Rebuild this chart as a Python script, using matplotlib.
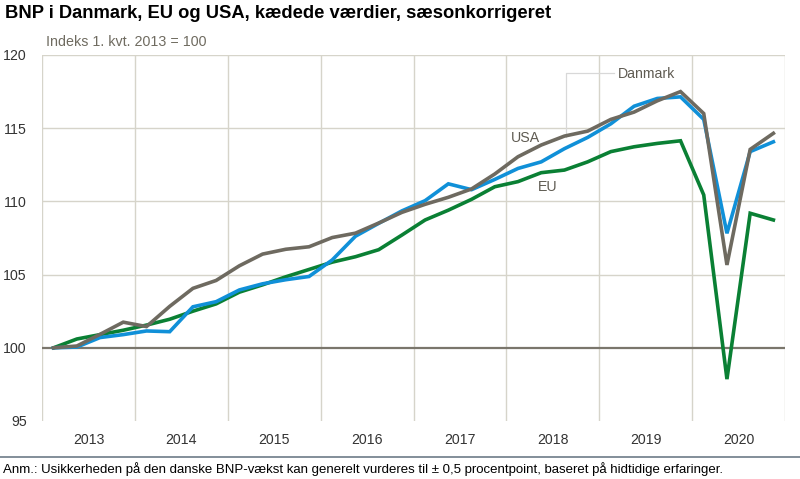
import numpy as np
import matplotlib
matplotlib.use("Agg")
import matplotlib.pyplot as plt

# Kvartaler 2013K1 - 2020K4, indeks 1. kvt. 2013 = 100
years = ["2013", "2014", "2015", "2016", "2017", "2018", "2019", "2020"]
danmark = [100.0, 100.05, 100.7, 100.9, 101.15, 101.1, 102.8, 103.15,
           103.95, 104.37, 104.65, 104.87, 106.0, 107.62, 108.5, 109.35,
           110.05, 111.2, 110.8, 111.5, 112.25, 112.7, 113.6, 114.37,
           115.3, 116.5, 117.03, 117.14, 115.6, 107.82, 113.4, 114.07]
usa = [100.0, 100.12, 100.92, 101.75, 101.45, 102.83, 104.06, 104.6,
       105.6, 106.4, 106.73, 106.9, 107.53, 107.83, 108.52, 109.25,
       109.8, 110.28, 110.85, 111.87, 113.05, 113.85, 114.46, 114.8,
       115.6, 116.1, 116.87, 117.5, 116.0, 105.66, 113.55, 114.65]
eu = [100.0, 100.6, 100.9, 101.2, 101.55, 101.95, 102.5, 103.0,
      103.8, 104.3, 104.85, 105.35, 105.85, 106.22, 106.7, 107.7,
      108.73, 109.4, 110.14, 111.0, 111.35, 111.96, 112.14, 112.7,
      113.4, 113.73, 113.96, 114.14, 110.44, 97.86, 109.19, 108.73]

plt.rcParams["font.family"] = ["Liberation Sans", "DejaVu Sans"]

grid_c = "#d6d4ca"
text_c = "#5f5b52"

fig = plt.figure(figsize=(8.0, 4.79), dpi=100)
ax = fig.add_axes([0.0525, 0.1211, 0.92875, 0.7641])

x = np.arange(len(danmark))
ax.plot(x, eu, color="#0a8034", lw=2.6, solid_joinstyle="miter", zorder=3)
ax.plot(x, danmark, color="#1090d8", lw=2.6, solid_joinstyle="miter", zorder=4)
ax.plot(x, usa, color="#6e6a60", lw=2.6, solid_joinstyle="miter", zorder=5)

ax.set_xlim(-0.5, len(x) - 0.5)
ax.set_ylim(95, 120)
ax.set_yticks([95, 100, 105, 110, 115, 120])
for v in [105, 110, 115, 120]:
    ax.axhline(v, color=grid_c, lw=1.0, zorder=1)
ax.axhline(100, color="#7a766c", lw=1.6, zorder=2)
for k in range(len(years) + 1):
    ax.axvline(-0.5 + 4 * k, color=grid_c, lw=1.0, zorder=1)

ax.set_xticks([1.5 + 4 * k for k in range(len(years))])
ax.set_xticklabels(years)
ax.tick_params(length=0, labelsize=10.2, colors="#333333")
ax.tick_params(axis="y", pad=11)
ax.tick_params(axis="x", pad=9)
for s in ax.spines.values():
    s.set_visible(False)

# serie-navne
ax.text(20.34, 114.36, "USA", color=text_c, fontsize=10.2,
        ha="center", va="center")
ax.text(21.27, 110.95, "EU", color=text_c, fontsize=10.2,
        ha="center", va="center")
ax.plot([22.07, 22.07, 24.14], [114.4, 118.76, 118.76], color="#d8d8d8", lw=0.9, zorder=2)
ax.text(24.31, 118.72, "Danmark", color=text_c, fontsize=10.2,
        ha="left", va="center")

fig.text(0.006, 0.971, "BNP i Danmark, EU og USA, kædede værdier, sæsonkorrigeret",
         fontsize=13.2, fontweight="bold", ha="left", va="center")
fig.text(0.058, 0.912, "Indeks 1. kvt. 2013 = 100", fontsize=10.3,
         color="#6f6b60", ha="left", va="center")

fig.add_artist(plt.Line2D([0, 1], [1 - 457 / 479] * 2, color="#6d7b88", lw=1.2))
fig.text(0.004, 1 - 469 / 479, "Anm.: Usikkerheden på den danske BNP-vækst kan generelt vurderes "
         "til ± 0,5 procentpoint, baseret på hidtidige erfaringer.",
         fontsize=9.5, ha="left", va="center")

fig.savefig("out.png", dpi=100)
